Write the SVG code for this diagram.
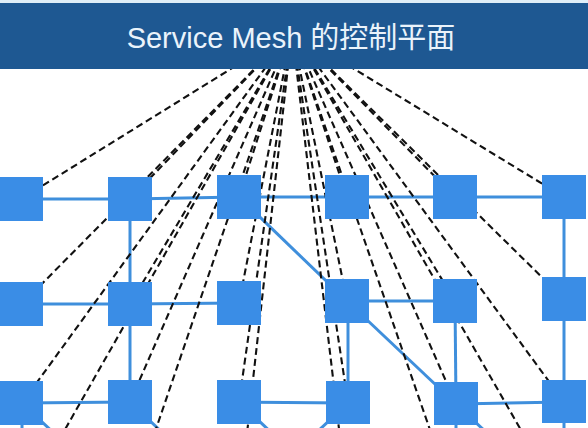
<svg xmlns="http://www.w3.org/2000/svg" width="588" height="428" viewBox="0 0 588 428">
<style>
.link{stroke:#3f8fdc;stroke-width:3;fill:none}
.ctl{stroke:#111;stroke-width:2.1;stroke-dasharray:7 4;fill:none}
.node{fill:#3a8de6}
.title{font-family:"Liberation Sans","Noto Sans CJK SC",sans-serif;font-size:29px;fill:#eaf3fb}
</style>
<rect x="0" y="0" width="588" height="428" fill="#ffffff"/>
<g id="connectors">
<g id="mesh-links">
<polyline class="link" points="21,199 130,199 239,197 347,197 455,197 564,197"/>
<line class="link" x1="130" y1="199" x2="130" y2="304"/>
<line class="link" x1="239" y1="197" x2="347" y2="301"/>
<line class="link" x1="564" y1="197" x2="564" y2="299"/>
<polyline class="link" points="22,304 130,304 239,303"/>
<line class="link" x1="347" y1="301" x2="455" y2="301"/>
<line class="link" x1="130" y1="304" x2="130" y2="402"/>
<line class="link" x1="348" y1="301" x2="348" y2="403"/>
<line class="link" x1="455" y1="301" x2="456" y2="404"/>
<line class="link" x1="564" y1="299" x2="564" y2="402"/>
<line class="link" x1="347" y1="301" x2="456" y2="404"/>
<line class="link" x1="22" y1="403" x2="130" y2="402"/>
<line class="link" x1="239" y1="402" x2="348" y2="403"/>
<line class="link" x1="456" y1="404" x2="564" y2="402"/>
<line class="link" x1="22" y1="403" x2="22" y2="440"/>
<line class="link" x1="22" y1="403" x2="130" y2="505"/>
<line class="link" x1="130" y1="402" x2="239" y2="505"/>
<line class="link" x1="239" y1="402" x2="348" y2="505"/>
<line class="link" x1="348" y1="403" x2="239" y2="505"/>
<line class="link" x1="456" y1="404" x2="456" y2="440"/>
<line class="link" x1="456" y1="404" x2="564" y2="505"/>
<line class="link" x1="564" y1="402" x2="564" y2="440"/>
</g>
<g id="control-links">
<line class="ctl" x1="292" y1="31" x2="21" y2="199"/>
<line class="ctl" x1="292" y1="31" x2="130" y2="199"/>
<line class="ctl" x1="292" y1="31" x2="239" y2="197"/>
<line class="ctl" x1="292" y1="31" x2="347" y2="197"/>
<line class="ctl" x1="292" y1="31" x2="455" y2="197"/>
<line class="ctl" x1="292" y1="31" x2="564" y2="197"/>
<line class="ctl" x1="292" y1="31" x2="22" y2="304"/>
<line class="ctl" x1="292" y1="31" x2="130" y2="304"/>
<line class="ctl" x1="292" y1="31" x2="239" y2="303"/>
<line class="ctl" x1="292" y1="31" x2="347" y2="301"/>
<line class="ctl" x1="292" y1="31" x2="455" y2="301"/>
<line class="ctl" x1="292" y1="31" x2="564" y2="299"/>
<line class="ctl" x1="292" y1="31" x2="22" y2="403"/>
<line class="ctl" x1="292" y1="31" x2="130" y2="402"/>
<line class="ctl" x1="292" y1="31" x2="239" y2="402"/>
<line class="ctl" x1="292" y1="31" x2="348" y2="403"/>
<line class="ctl" x1="292" y1="31" x2="456" y2="404"/>
<line class="ctl" x1="292" y1="31" x2="564" y2="402"/>
<line class="ctl" x1="292" y1="31" x2="22" y2="505"/>
<line class="ctl" x1="292" y1="31" x2="130" y2="505"/>
<line class="ctl" x1="292" y1="31" x2="239" y2="505"/>
<line class="ctl" x1="292" y1="31" x2="348" y2="505"/>
<line class="ctl" x1="292" y1="31" x2="456" y2="505"/>
<line class="ctl" x1="292" y1="31" x2="564" y2="505"/>
</g>
</g>
<g id="nodes">
<rect id="n-1-1" class="node" x="-1" y="177" width="44" height="44"/>
<rect id="n-1-2" class="node" x="108" y="177" width="44" height="44"/>
<rect id="n-1-3" class="node" x="217" y="175" width="44" height="44"/>
<rect id="n-1-4" class="node" x="325" y="175" width="44" height="44"/>
<rect id="n-1-5" class="node" x="433" y="175" width="44" height="44"/>
<rect id="n-1-6" class="node" x="542" y="175" width="44" height="44"/>
<rect id="n-2-1" class="node" x="0" y="282" width="43" height="44"/>
<rect id="n-2-2" class="node" x="108" y="282" width="44" height="44"/>
<rect id="n-2-3" class="node" x="217" y="281" width="44" height="44"/>
<rect id="n-2-4" class="node" x="325" y="279" width="44" height="44"/>
<rect id="n-2-5" class="node" x="433" y="279" width="44" height="44"/>
<rect id="n-2-6" class="node" x="542" y="277" width="44" height="44"/>
<rect id="n-3-1" class="node" x="0" y="381" width="43" height="44"/>
<rect id="n-3-2" class="node" x="108" y="380" width="44" height="44"/>
<rect id="n-3-3" class="node" x="217" y="380" width="44" height="44"/>
<rect id="n-3-4" class="node" x="326" y="381" width="44" height="43"/>
<rect id="n-3-5" class="node" x="434" y="382" width="44" height="43"/>
<rect id="n-3-6" class="node" x="542" y="380" width="44" height="43"/>
</g>
<g id="control-plane">
<rect x="0" y="0" width="588" height="3" fill="#dfeef8"/>
<rect x="0" y="3" width="588" height="66" fill="#1e5892"/>
<text class="title" x="291" y="48" text-anchor="middle">Service Mesh 的控制平面</text>
</g>
</svg>
